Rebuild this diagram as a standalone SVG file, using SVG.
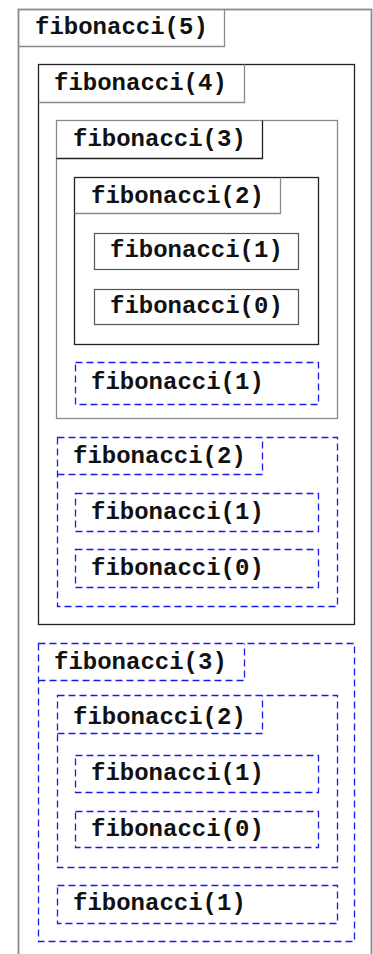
<svg xmlns="http://www.w3.org/2000/svg" width="373" height="954" viewBox="0 0 373 954">
<style>
  .t { font-family: "Liberation Mono", "Courier New", monospace; font-weight: bold; font-size: 24px; fill: #111; }
  .gray { fill: none; stroke: #8a8a8a; stroke-width: 1.3; }
  .blk { fill: none; stroke: #222; stroke-width: 1.3; }
  .leaf { fill: none; stroke: #555; stroke-width: 1.2; }
  .dash { fill: none; stroke: #1a1aee; stroke-width: 1.3; stroke-dasharray: 7 4; }
</style>
<rect width="373" height="954" fill="#fff"/>
<g id="fib5">
  <rect class="gray" x="18.5" y="9.5" width="353" height="960" style="stroke-width:1.8"/>
  <path class="gray" d="M18.5 46.5 H224.5 V9.5"/>
  <text class="t" x="35" y="34">fibonacci(5)</text>
</g>
<g id="fib4">
  <rect class="blk" x="38.5" y="64.5" width="316" height="560"/>
  <path class="gray" d="M38.5 102.5 H244.5 V64.5"/>
  <text class="t" x="54" y="90">fibonacci(4)</text>
</g>
<g id="fib3a">
  <rect class="gray" x="56.5" y="120.5" width="281" height="298"/>
  <path class="blk" d="M56.5 158.5 H262.5 V120.5"/>
  <text class="t" x="73" y="146">fibonacci(3)</text>
</g>
<g id="fib2a">
  <rect class="blk" x="74.5" y="177.5" width="244" height="167"/>
  <path class="gray" d="M74.5 213.5 H280.5 V177.5"/>
  <text class="t" x="91" y="203">fibonacci(2)</text>
</g>
<g id="fib1a">
  <rect class="leaf" x="94.5" y="233.5" width="204" height="36"/>
  <text class="t" x="110" y="257">fibonacci(1)</text>
</g>
<g id="fib0a">
  <rect class="leaf" x="94.5" y="289.5" width="204" height="35"/>
  <text class="t" x="110" y="313">fibonacci(0)</text>
</g>
<g id="fib1b">
  <rect class="dash" x="75.5" y="362.5" width="243" height="42"/>
  <text class="t" x="91" y="389">fibonacci(1)</text>
</g>
<g id="fib2b">
  <rect class="dash" x="57.5" y="437.5" width="280" height="169"/>
  <path class="dash" d="M57.5 474.5 H262.5 V437.5"/>
  <text class="t" x="73" y="463">fibonacci(2)</text>
</g>
<g id="fib1c">
  <rect class="dash" x="75.5" y="493.5" width="243" height="38"/>
  <text class="t" x="91" y="519">fibonacci(1)</text>
</g>
<g id="fib0c">
  <rect class="dash" x="75.5" y="549.5" width="243" height="38"/>
  <text class="t" x="91" y="575">fibonacci(0)</text>
</g>
<g id="fib3b">
  <rect class="dash" x="38.5" y="643.5" width="316" height="298"/>
  <path class="dash" d="M38.5 680.5 H244.5 V643.5"/>
  <text class="t" x="54" y="669">fibonacci(3)</text>
</g>
<g id="fib2d">
  <rect class="dash" x="57.5" y="695.5" width="280" height="172"/>
  <path class="dash" d="M57.5 733.5 H262.5 V695.5"/>
  <text class="t" x="73" y="724">fibonacci(2)</text>
</g>
<g id="fib1e">
  <rect class="dash" x="75.5" y="755.5" width="243" height="37"/>
  <text class="t" x="91" y="780">fibonacci(1)</text>
</g>
<g id="fib0e">
  <rect class="dash" x="75.5" y="811.5" width="243" height="36"/>
  <text class="t" x="91" y="836">fibonacci(0)</text>
</g>
<g id="fib1f">
  <rect class="dash" x="57.5" y="885.5" width="280" height="38"/>
  <text class="t" x="73" y="910">fibonacci(1)</text>
</g>
<g id="connectors"></g>
</svg>
